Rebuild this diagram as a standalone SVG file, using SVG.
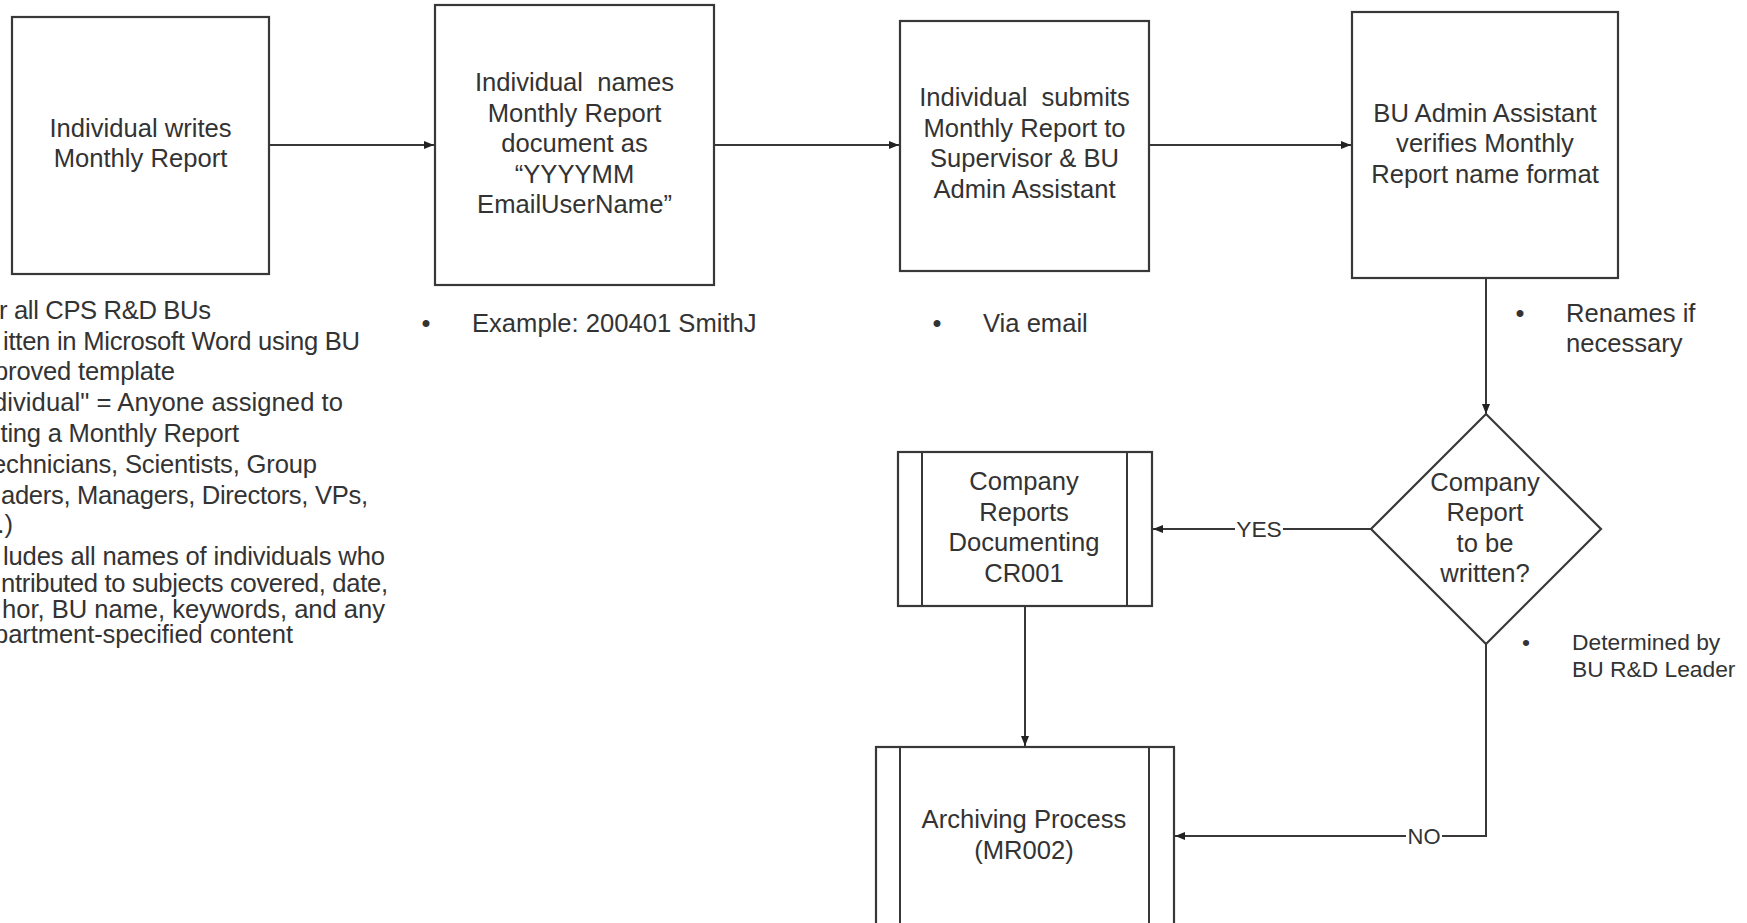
<svg xmlns="http://www.w3.org/2000/svg" width="1747" height="923" viewBox="0 0 1747 923">
<style>
.box{fill:#fff;stroke:#383838;stroke-width:2.2}
.ln{fill:none;stroke:#383838;stroke-width:2}
.t{font-family:"Liberation Sans",Arial,sans-serif;font-size:25.6px;fill:#333}
.c{text-anchor:middle}
.e{text-anchor:end}
.s{font-size:22.8px}
</style>
<defs>
<marker id="ah" markerUnits="userSpaceOnUse" markerWidth="10" markerHeight="8" refX="10" refY="4" orient="auto">
<path d="M0,0 L10,4 L0,8 z" fill="#222"/>
</marker>
</defs>
<rect width="1747" height="923" fill="#fff"/>

<g id="connectors">
<path class="ln" d="M269,145 L434,145" marker-end="url(#ah)"/>
<path class="ln" d="M714,145 L899,145" marker-end="url(#ah)"/>
<path class="ln" d="M1149,145 L1351,145" marker-end="url(#ah)"/>
<path class="ln" d="M1486,278 L1486,414" marker-end="url(#ah)"/>
<path class="ln" d="M1372,529 L1153,529" marker-end="url(#ah)"/>
<path class="ln" d="M1025,606 L1025,746" marker-end="url(#ah)"/>
<path class="ln" d="M1486,643 L1486,836 L1175,836" marker-end="url(#ah)"/>
<rect x="1235" y="515" width="48" height="28" fill="#fff"/>
<text class="t s c" x="1259" y="537">YES</text>
<rect x="1406" y="822" width="36" height="28" fill="#fff"/>
<text class="t s c" x="1424" y="844" style="font-size:22px">NO</text>
</g>

<g id="n1">
<rect class="box" x="12" y="17" width="257" height="257"/>
<text class="t c" x="140.5" y="137">Individual writes</text>
<text class="t c" x="140.5" y="167">Monthly Report</text>
</g>

<g id="n1-notes">
<text class="t" x="-1" y="319" textLength="212">r all CPS R&amp;D BUs</text>
<text class="t" x="3" y="350" textLength="357">itten in Microsoft Word using BU</text>
<text class="t" x="-6" y="380" textLength="181">proved template</text>
<text class="t" x="-7" y="411" textLength="350">dividual" = Anyone assigned to</text>
<text class="t" x="0.5" y="442" textLength="238.5">ting a Monthly Report</text>
<text class="t" x="-8" y="473" textLength="325">echnicians, Scientists, Group</text>
<text class="t" x="1" y="504" textLength="367">aders, Managers, Directors, VPs,</text>
<text class="t e" x="13" y="533">.)</text>
<text class="t" x="3" y="565" textLength="382">ludes all names of individuals who</text>
<text class="t" x="1" y="592" textLength="387">ntributed to subjects covered, date,</text>
<text class="t" x="2" y="618" textLength="383">hor, BU name, keywords, and any</text>
<text class="t" x="-6" y="643" textLength="299">partment-specified content</text>
</g>

<g id="n2">
<rect class="box" x="435" y="5" width="279" height="280"/>
<text class="t c" x="574.5" y="91" xml:space="preserve">Individual  names</text>
<text class="t c" x="574.5" y="122">Monthly Report</text>
<text class="t c" x="574.5" y="152">document as</text>
<text class="t c" x="574.5" y="183">“YYYYMM</text>
<text class="t c" x="574.5" y="213">EmailUserName”</text>
</g>
<g id="n2-notes">
<text class="t c" x="426" y="332">•</text>
<text class="t" x="472" y="332">Example: 200401 SmithJ</text>
</g>

<g id="n3">
<rect class="box" x="900" y="21" width="249" height="250"/>
<text class="t c" x="1024.5" y="106" xml:space="preserve">Individual  submits</text>
<text class="t c" x="1024.5" y="137">Monthly Report to</text>
<text class="t c" x="1024.5" y="167">Supervisor &amp; BU</text>
<text class="t c" x="1024.5" y="198">Admin Assistant</text>
</g>
<g id="n3-notes">
<text class="t c" x="937" y="332">•</text>
<text class="t" x="983" y="332">Via email</text>
</g>

<g id="n4">
<rect class="box" x="1352" y="12" width="266" height="266"/>
<text class="t c" x="1485" y="122">BU Admin Assistant</text>
<text class="t c" x="1485" y="152">verifies Monthly</text>
<text class="t c" x="1485" y="183">Report name format</text>
</g>
<g id="n4-notes">
<text class="t c" x="1520" y="322">•</text>
<text class="t" x="1566" y="322">Renames if</text>
<text class="t" x="1566" y="352">necessary</text>
</g>

<g id="n5">
<path class="box" d="M1486,414 L1601,529 L1486,644 L1371,529 Z"/>
<text class="t c" x="1485" y="491">Company</text>
<text class="t c" x="1485" y="521">Report</text>
<text class="t c" x="1485" y="552">to be</text>
<text class="t c" x="1485" y="582">written?</text>
</g>
<g id="n5-notes">
<text class="t s c" x="1526" y="650">•</text>
<text class="t s" x="1572" y="650">Determined by</text>
<text class="t s" x="1572" y="677">BU R&amp;D Leader</text>
</g>

<g id="n6">
<rect class="box" x="898" y="452" width="254" height="154"/>
<path class="ln" d="M922,452 V606 M1127,452 V606"/>
<text class="t c" x="1024" y="490">Company</text>
<text class="t c" x="1024" y="521">Reports</text>
<text class="t c" x="1024" y="551">Documenting</text>
<text class="t c" x="1024" y="582">CR001</text>
</g>

<g id="n7">
<rect class="box" x="876" y="747" width="298" height="200"/>
<path class="ln" d="M900,747 V940 M1149,747 V940"/>
<text class="t c" x="1024" y="828">Archiving Process</text>
<text class="t c" x="1024" y="859">(MR002)</text>
</g>
</svg>
